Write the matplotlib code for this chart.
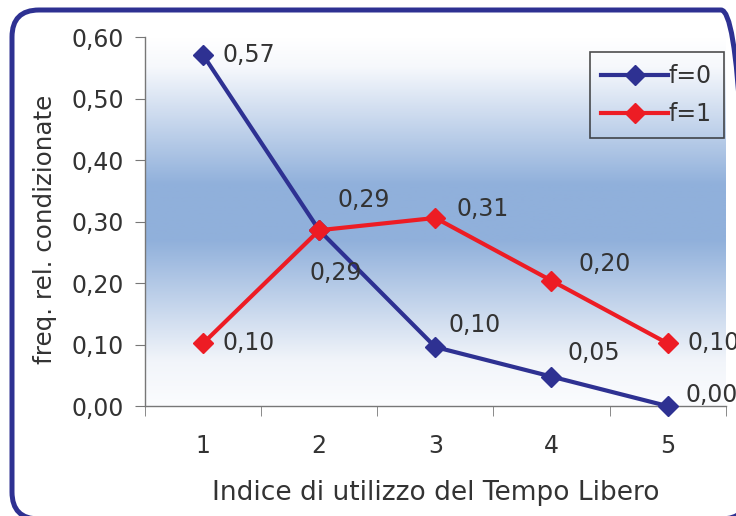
import numpy as np
import matplotlib.pyplot as plt
from matplotlib.patches import FancyBboxPatch
from matplotlib.colors import LinearSegmentedColormap

# indice di utilizzo del tempo libero
categorie = [1, 2, 3, 4, 5]
freq_f0 = [0.571, 0.286, 0.096, 0.048, 0.0]
freq_f1 = [0.102, 0.286, 0.306, 0.204, 0.102]
yticks = [0.0, 0.1, 0.2, 0.3, 0.4, 0.5, 0.6]

BLU = "#2E3192"
ROSSO = "#ED1C24"
TESTO = "#333333"

# spostamento delle etichette dati (pixel)
off_f0 = [(19, 0), (-10, -43), (13, 22), (16, 24), (18, 11)]
off_f1 = [(19, 0), (18, 30), (21, 9), (27, 17), (20, 0)]

plt.rcParams["font.family"] = "DejaVu Sans"

fig = plt.figure(figsize=(7.36, 5.16), dpi=100)
ax = fig.add_axes([0.197, 0.213, 0.789, 0.715])

# sfondo sfumato dell'area del grafico
cmap = LinearSegmentedColormap.from_list(
    "sfondo", [(0.0, "#FBFCFE"), (0.12, "#F2F5FA"), (0.45, "#90B0DB"),
               (0.6, "#90B0DB"), (0.92, "#F6F8FC"), (1.0, "#FFFFFF")])
grad = np.linspace(0, 1, 256).reshape(-1, 1)
ax.imshow(grad, cmap=cmap, aspect="auto", origin="lower",
          extent=[0.5, 5.5, 0, 0.6], zorder=0)

ax.plot(categorie, freq_f0, color=BLU, lw=3, marker="D", ms=10,
        label="f=0", zorder=3, clip_on=False)
ax.plot(categorie, freq_f1, color=ROSSO, lw=3, marker="D", ms=10,
        label="f=1", zorder=3, clip_on=False)

for x, y, off in zip(categorie, freq_f0, off_f0):
    ax.annotate(f"{y:.2f}".replace(".", ","), (x, y), xytext=off,
                textcoords="offset pixels", fontsize=17, color=TESTO,
                va="center", ha="left", annotation_clip=False)
for x, y, off in zip(categorie, freq_f1, off_f1):
    ax.annotate(f"{y:.2f}".replace(".", ","), (x, y), xytext=off,
                textcoords="offset pixels", fontsize=17, color=TESTO,
                va="center", ha="left", annotation_clip=False)

ax.set_xlim(0.5, 5.5)
ax.set_ylim(0, 0.6)
ax.set_yticks(yticks)
ax.set_yticklabels([f"{v:.2f}".replace(".", ",") for v in yticks])
ax.set_xticks(categorie)
ax.set_xticks(np.arange(0.5, 5.6, 1.0), minor=True)
ax.tick_params(axis="x", which="major", length=0, pad=20,
               labelsize=17, labelcolor=TESTO)
ax.tick_params(axis="x", which="minor", length=7, color="#777777")
ax.tick_params(axis="y", length=7, color="#777777", labelsize=17,
               labelcolor=TESTO, pad=8)

for lato in ["top", "right"]:
    ax.spines[lato].set_visible(False)
for lato in ["left", "bottom"]:
    ax.spines[lato].set_color("#777777")
    ax.spines[lato].set_linewidth(1)

ax.set_xlabel("Indice di utilizzo del Tempo Libero", fontsize=19,
              color=TESTO, labelpad=16)
ax.set_ylabel("freq. rel. condizionate", fontsize=17.7, color=TESTO)
ax.yaxis.set_label_coords(-0.151, 0.48)

leg = ax.legend(loc="upper right", bbox_to_anchor=(0.9966, 0.959),
                borderaxespad=0, fontsize=17, fancybox=False, frameon=True,
                handlelength=2.8, handletextpad=0.05, borderpad=0.5,
                labelspacing=0.6, labelcolor=TESTO)
leg.get_frame().set_edgecolor("#222222")
leg.get_frame().set_facecolor("none")
leg.get_frame().set_linewidth(1.2)

# cornice arrotondata attorno al grafico
cornice = FancyBboxPatch((0.12, -0.03), 7.36, 5.09,
                         boxstyle="round,pad=0,rounding_size=0.27",
                         transform=fig.dpi_scale_trans, fill=False,
                         edgecolor=BLU, linewidth=3.6, clip_on=False)
fig.patches.append(cornice)

fig.savefig("out.png", dpi=100)
